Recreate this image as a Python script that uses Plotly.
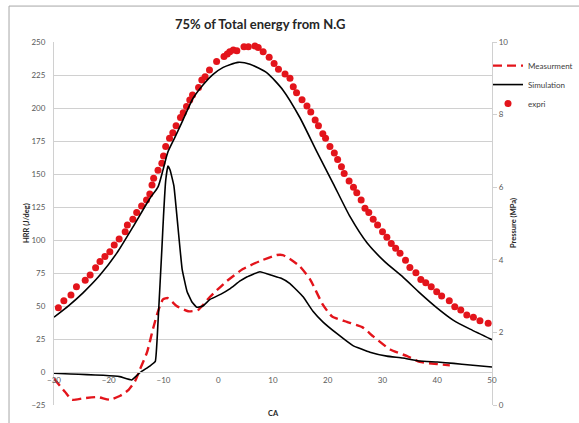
import plotly.graph_objects as go

# ---------------- data ----------------
# Measured heat release rate (J/deg) vs crank angle
meas_ca = [-30, -28, -26.7, -24.7, -22, -19.8, -17.9, -16.5, -15.2, -14.3, -13, -11.9, -11,
           -10.1, -9.2, -7.6, -5.5, -3.7, -1.5, 1.6, 4.5, 7.6, 10.7, 11.8, 13.1, 14.9, 16.8,
           19.1, 20.8, 23.5, 26.3, 28.3, 31.4, 34.5, 36.8, 40, 42.3]
meas_hrr = [-5, -15, -21, -20, -19, -21, -18, -14, -7, 2, 15, 33, 46,
            55, 56, 50, 46, 47, 57, 69, 78, 84, 88.6, 88.6, 85.6, 80, 70,
            51, 42, 38, 34, 27, 17, 12, 7.6, 6, 5]

# Simulated heat release rate (J/deg)
sim_ca = [-30, -27, -24, -21, -18, -15.8, -14.3, -12.5, -11.5, -11.0, -10.3, -10.0, -9.6, -9.2,
          -8.8, -8.1, -7.5, -6.6, -5.7, -4.8, -3.9, -2.8, -1.5, 0.5, 2.1, 4.0, 5.2, 7.6, 10.0,
          11.5, 13.1, 15.5, 17.3, 19.1, 21.7, 24.6, 27.7, 30.8, 33.7, 36.8, 40.0, 43.0, 46.0, 50.0]
sim_hrr = [-1, -1.5, -2, -2.5, -3.5, -6, -0.5, 4.5, 8, 38, 93, 118, 145, 156,
           153, 141, 116, 78, 61, 53, 49, 50, 55, 59, 63, 69, 72, 76, 73,
           71, 67, 57, 46, 38, 29, 20, 15, 12, 10.6, 8.3, 7.6, 6.5, 5.3, 3.8]

# Simulated cylinder pressure (MPa)
simp_ca = [-30, -27.3, -24.7, -21.6, -18.5, -15.6, -12.5, -11, -10.1, -9.2, -7.9, -6.6, -4.6,
           -2.6, -1.0, 0.9, 3.6, 5.8, 8.9, 11.8, 14.9, 18, 21, 24.1, 27.2, 30.4, 33.7,
           36.8, 40, 42.9, 46, 50]
simp_p = [2.42, 2.74, 3.09, 3.58, 4.19, 4.90, 5.69, 6.01, 6.47, 6.97, 7.38, 7.80, 8.45,
          8.85, 9.10, 9.30, 9.44, 9.39, 9.15, 8.68, 7.92, 6.98, 6.10, 5.18, 4.46, 3.95, 3.53,
          3.09, 2.67, 2.34, 2.09, 1.80]

# Experimental pressure (MPa)
exp_ca = [-29.2, -28.2, -26.9, -25.9, -24.3, -23.4, -22.4, -21.6, -20.7, -19.8, -19.0, -18.1,
          -17.0, -16.6, -15.6, -14.9, -14.0, -13.1, -12.5, -12.1, -11.8, -11.0, -10.3, -10.0,
          -9.6, -8.9, -8.3, -7.7, -6.9, -6.4, -5.8, -5.2, -4.7, -3.6, -3.0, -2.4, -1.6, -0.3,
          1.05, 1.65, 2.1, 2.75, 3.4, 4.7, 5.5, 6.7, 7.3, 8.2, 9.3, 10.2, 11.0, 12.2, 13.1,
          13.7, 14.3, 15.3, 16.2, 16.9, 17.7, 18.3, 19.1, 19.6, 20.4, 21.2, 21.8, 22.5, 23.0,
          23.9, 24.7, 25.3, 26.1, 26.8, 27.5, 28.3, 29.1, 30.0, 30.8, 31.6, 32.4, 33.2, 34.2,
          35.0, 36.1, 37.0, 37.9, 38.9, 39.9, 40.8, 42.2, 43.2, 44.3, 45.4, 46.6, 47.8, 49.3]
exp_p = [2.68, 2.87, 3.03, 3.26, 3.44, 3.58, 3.78, 3.95, 4.09, 4.22, 4.41, 4.57,
         4.77, 4.96, 5.12, 5.30, 5.48, 5.65, 5.81, 6.06, 6.25, 6.47, 6.66, 6.86,
         7.12, 7.35, 7.50, 7.69, 7.92, 8.05, 8.22, 8.40, 8.54, 8.75, 8.95, 9.04, 9.23, 9.46,
         9.60, 9.67, 9.73, 9.78, 9.76, 9.87, 9.87, 9.89, 9.85, 9.73, 9.58, 9.41, 9.25, 9.12, 9.00,
         8.77, 8.60, 8.41, 8.24, 8.07, 7.85, 7.69, 7.47, 7.35, 7.12, 6.94, 6.76, 6.56, 6.38,
         6.17, 6.00, 5.85, 5.65, 5.42, 5.30, 5.12, 4.96, 4.77, 4.62, 4.45, 4.32, 4.18, 3.99,
         3.79, 3.64, 3.46, 3.37, 3.26, 3.12, 3.00, 2.87, 2.71, 2.62, 2.48, 2.42, 2.32, 2.25]

x_ticks = [-30, -20, -10, 0, 10, 20, 30, 40, 50]
y_ticks = [-25, 0, 25, 50, 75, 100, 125, 150, 175, 200, 225, 250]
y2_ticks = [0, 2, 4, 6, 8, 10]

RED = "#e3141b"
FONT = "Lato"

fig = go.Figure()
fig.add_trace(go.Scatter(x=meas_ca, y=meas_hrr, mode="lines", name="Measurment",
                         line=dict(color=RED, width=2.4, dash="9px,5px", shape="spline", smoothing=0.5)))
fig.add_trace(go.Scatter(x=sim_ca, y=sim_hrr, mode="lines", name="Simulation",
                         line=dict(color="black", width=1.6, shape="spline", smoothing=0.3)))
fig.add_trace(go.Scatter(x=exp_ca, y=exp_p, mode="markers", name="expri", yaxis="y2",
                         marker=dict(color=RED, size=7)))
fig.add_trace(go.Scatter(x=simp_ca, y=simp_p, mode="lines", name="Simulation", yaxis="y2",
                         showlegend=False,
                         line=dict(color="black", width=1.6, shape="spline", smoothing=0.6)))

GRID = "#d0d0d0"
TICKC = "#595959"

fig.update_layout(
    width=579, height=423,
    margin=dict(l=54, r=87, t=42, b=18, autoexpand=False),
    paper_bgcolor="white", plot_bgcolor="white",
    font=dict(family=FONT, size=8, color=TICKC),
    showlegend=True,
    legend=dict(x=(488 - 54) / 438, y=0.975, xanchor="left", yanchor="top",
                font=dict(size=8, color="#404040", family=FONT),
                bgcolor="rgba(0,0,0,0)", tracegroupgap=0, itemwidth=30),
    xaxis=dict(range=[-30, 50], tickvals=x_ticks, ticks="", showgrid=False,
               showline=True, linecolor=GRID, linewidth=1.2,
               anchor="free", position=25 / 275, zeroline=False,
               tickfont=dict(size=8, color=TICKC)),
    yaxis=dict(range=[-25, 250], tickvals=y_ticks, showgrid=True, gridcolor=GRID,
               gridwidth=1.2, zeroline=False, showline=True, linecolor=GRID, linewidth=1.2,
               ticks="", ticklabelstandoff=6, tickfont=dict(size=8, color=TICKC)),
    yaxis2=dict(range=[0, 10], tickvals=y2_ticks, overlaying="y", side="right",
                showgrid=False, zeroline=False, showline=True, linecolor=GRID, linewidth=1.2,
                ticks="outside", ticklen=4, tickcolor=GRID, tickfont=dict(size=8, color=TICKC)),
    shapes=[dict(type="rect", xref="paper", yref="paper", x0=-0.1027, x1=1.3,
                 y0=-0.2, y1=1.099, line=dict(color="#a6a6a6", width=1), layer="below")],
    annotations=[
        dict(text="<b>75% of Total energy from N.G</b>", xref="paper", yref="paper",
             x=(260 - 54) / 438, y=(405 - 24) / 363, showarrow=False,
             xanchor="center", yanchor="middle",
             font=dict(size=13, color="#262626", family=FONT)),
        dict(text="<b>HRR (J/deg)</b>", xref="paper", yref="paper",
             x=(26 - 54) / 438, y=(405 - 223) / 363, showarrow=False, textangle=-90,
             xanchor="center", yanchor="middle",
             font=dict(size=7.5, color="#262626", family=FONT)),
        dict(text="<b>Pressure (MPa)</b>", xref="paper", yref="paper",
             x=(513 - 54) / 438, y=(405 - 223) / 363, showarrow=False, textangle=-90,
             xanchor="center", yanchor="middle",
             font=dict(size=7.5, color="#262626", family=FONT)),
        dict(text="<b>CA</b>", xref="paper", yref="paper",
             x=(273 - 54) / 438, y=(405 - 413) / 363, showarrow=False,
             xanchor="center", yanchor="middle",
             font=dict(size=7.5, color="#262626", family=FONT)),
    ],
)

fig.write_html("out.html")
